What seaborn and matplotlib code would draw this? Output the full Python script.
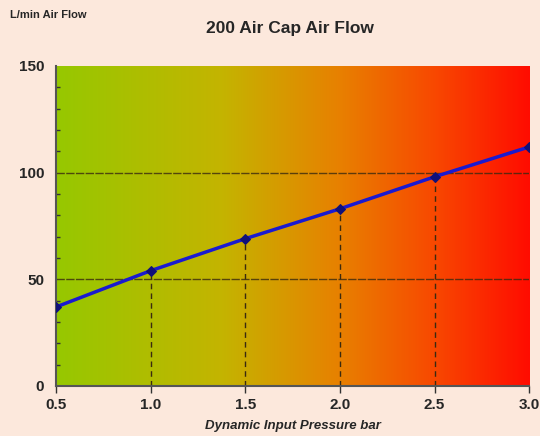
import numpy as np
import pandas as pd
import seaborn as sns
import matplotlib.pyplot as plt
from matplotlib.colors import LinearSegmentedColormap
from matplotlib.ticker import MultipleLocator

# Data
pressure = [0.5, 1.0, 1.5, 2.0, 2.5, 3.0]
air_flow = [37, 54, 69, 83, 98, 112]
x_ticks = [0.5, 1.0, 1.5, 2.0, 2.5, 3.0]
y_ticks = [0, 50, 100, 150]

df = pd.DataFrame({'Pressure': pressure, 'AirFlow': air_flow})

sns.set_theme(style='white')
plt.rcParams['font.family'] = ['Liberation Sans', 'DejaVu Sans']

bg = '#fce8dc'
fig = plt.figure(figsize=(5.4, 4.36), dpi=100, facecolor=bg)
ax = fig.add_axes([0.104, 0.115, 0.876, 0.734])

# green -> red background gradient
cmap = LinearSegmentedColormap.from_list(
    'gr', [(0, '#96c800'), (0.35, '#c4b400'), (0.6, '#e88000'), (0.8, '#f84800'), (1, '#ff0c00')])
grad = np.linspace(0, 1, 256).reshape(1, -1)
ax.imshow(grad, aspect='auto', cmap=cmap, extent=[0.5, 3.0, 0, 150], zorder=0)

# horizontal grid lines
for yv in [50, 100]:
    ax.axhline(yv, color='#3a2a10', lw=1.0, ls=(0, (6, 1)), alpha=0.8, zorder=1)

# dashed drop lines
ax.vlines(pressure[1:-1], 0, air_flow[1:-1], colors='#3a2a10', lw=1.0, ls=(0, (4, 3)), zorder=1)

sns.lineplot(data=df, x='Pressure', y='AirFlow', ax=ax, color='#1a1ad0', lw=2.5,
             marker='D', markersize=5, markerfacecolor='#10107a', markeredgecolor='#10107a', zorder=3)

ax.set_xlim(0.5, 3.0)
ax.set_ylim(0, 150)
ax.set_xticks(x_ticks)
ax.set_xticklabels([f'{v:.1f}' for v in x_ticks])
ax.set_yticks(y_ticks)
ax.yaxis.set_minor_locator(MultipleLocator(10))
ax.tick_params(axis='y', which='major', direction='out', length=5, width=1, color='#333333', labelsize=11)
ax.tick_params(axis='y', which='minor', direction='in', length=3, width=1, color='#333333', left=True)
ax.tick_params(axis='x', which='major', direction='out', length=5, width=1, color='#333333',
               labelsize=11, bottom=True)
for t in ax.get_xticklabels() + ax.get_yticklabels():
    t.set_fontweight('bold')

for side in ['left', 'bottom']:
    ax.spines[side].set_color('#555555')
    ax.spines[side].set_linewidth(1.5)
for side in ['top', 'right']:
    ax.spines[side].set_visible(False)

ax.set_xlabel('Dynamic Input Pressure bar', fontsize=9.5, fontweight='bold', style='italic', labelpad=6)
ax.set_ylabel('')
fig.text(0.537, 0.935, '200 Air Cap Air Flow', ha='center', va='center', fontsize=12.5, fontweight='bold')
fig.text(0.018, 0.965, 'L/min Air Flow', ha='left', va='center', fontsize=8, fontweight='bold')

fig.savefig('out.png', dpi=100, facecolor=bg)
